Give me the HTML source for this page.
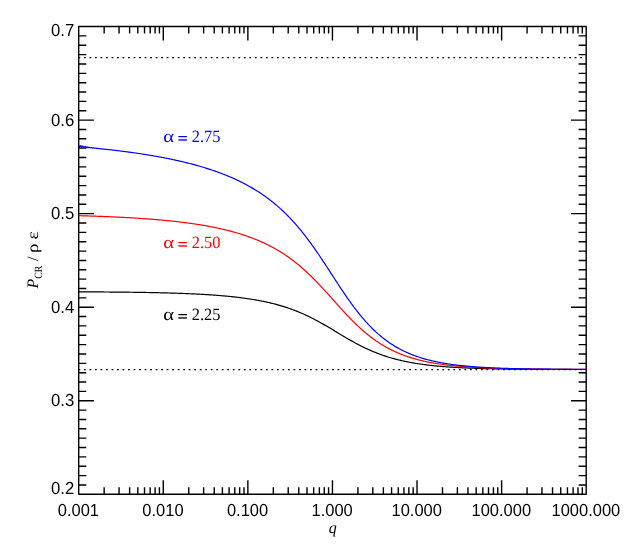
<!DOCTYPE html>
<html><head><meta charset="utf-8"><title>plot</title>
<style>
html,body{margin:0;padding:0;background:#fff;}
body{width:629px;height:550px;overflow:hidden;}
svg{display:block;will-change:transform;}
text{text-rendering:geometricPrecision;}
.t{font-family:"Liberation Sans",sans-serif;font-size:16px;fill:#000;}
.s{font-family:"Liberation Serif",serif;font-size:16px;}
.si{font-family:"Liberation Serif",serif;font-size:16px;font-style:italic;}
</style></head><body>
<svg width="629" height="550" viewBox="0 0 629 550">

<g stroke="#000" stroke-width="1.40" fill="none" stroke-linecap="butt" stroke-linejoin="round">
<rect x="78.70" y="26.56" width="507.50" height="467.74"/>
<path d="M104.16 494.30V487.30M104.16 26.56V33.56M119.06 494.30V487.30M119.06 26.56V33.56M129.62 494.30V487.30M129.62 26.56V33.56M137.82 494.30V487.30M137.82 26.56V33.56M144.52 494.30V487.30M144.52 26.56V33.56M150.18 494.30V487.30M150.18 26.56V33.56M155.09 494.30V487.30M155.09 26.56V33.56M159.41 494.30V487.30M159.41 26.56V33.56M163.28 494.30V480.30M163.28 26.56V40.56M188.75 494.30V487.30M188.75 26.56V33.56M203.64 494.30V487.30M203.64 26.56V33.56M214.21 494.30V487.30M214.21 26.56V33.56M222.40 494.30V487.30M222.40 26.56V33.56M229.10 494.30V487.30M229.10 26.56V33.56M234.76 494.30V487.30M234.76 26.56V33.56M239.67 494.30V487.30M239.67 26.56V33.56M244.00 494.30V487.30M244.00 26.56V33.56M247.87 494.30V480.30M247.87 26.56V40.56M273.33 494.30V487.30M273.33 26.56V33.56M288.22 494.30V487.30M288.22 26.56V33.56M298.79 494.30V487.30M298.79 26.56V33.56M306.99 494.30V487.30M306.99 26.56V33.56M313.69 494.30V487.30M313.69 26.56V33.56M319.35 494.30V487.30M319.35 26.56V33.56M324.25 494.30V487.30M324.25 26.56V33.56M328.58 494.30V487.30M328.58 26.56V33.56M332.45 494.30V480.30M332.45 26.56V40.56M357.91 494.30V487.30M357.91 26.56V33.56M372.81 494.30V487.30M372.81 26.56V33.56M383.37 494.30V487.30M383.37 26.56V33.56M391.57 494.30V487.30M391.57 26.56V33.56M398.27 494.30V487.30M398.27 26.56V33.56M403.93 494.30V487.30M403.93 26.56V33.56M408.84 494.30V487.30M408.84 26.56V33.56M413.16 494.30V487.30M413.16 26.56V33.56M417.03 494.30V480.30M417.03 26.56V40.56M442.50 494.30V487.30M442.50 26.56V33.56M457.39 494.30V487.30M457.39 26.56V33.56M467.96 494.30V487.30M467.96 26.56V33.56M476.15 494.30V487.30M476.15 26.56V33.56M482.85 494.30V487.30M482.85 26.56V33.56M488.51 494.30V487.30M488.51 26.56V33.56M493.42 494.30V487.30M493.42 26.56V33.56M497.75 494.30V487.30M497.75 26.56V33.56M501.62 494.30V480.30M501.62 26.56V40.56M527.08 494.30V487.30M527.08 26.56V33.56M541.97 494.30V487.30M541.97 26.56V33.56M552.54 494.30V487.30M552.54 26.56V33.56M560.74 494.30V487.30M560.74 26.56V33.56M567.44 494.30V487.30M567.44 26.56V33.56M573.10 494.30V487.30M573.10 26.56V33.56M578.00 494.30V487.30M578.00 26.56V33.56M582.33 494.30V487.30M582.33 26.56V33.56M78.70 484.95H86.30M586.20 484.95H578.60M78.70 475.59H86.30M586.20 475.59H578.60M78.70 466.24H86.30M586.20 466.24H578.60M78.70 456.88H86.30M586.20 456.88H578.60M78.70 447.53H86.30M586.20 447.53H578.60M78.70 438.17H86.30M586.20 438.17H578.60M78.70 428.82H86.30M586.20 428.82H578.60M78.70 419.46H86.30M586.20 419.46H578.60M78.70 410.11H86.30M586.20 410.11H578.60M78.70 400.75H93.90M586.20 400.75H571.00M78.70 391.40H86.30M586.20 391.40H578.60M78.70 382.04H86.30M586.20 382.04H578.60M78.70 372.69H86.30M586.20 372.69H578.60M78.70 363.33H86.30M586.20 363.33H578.60M78.70 353.98H86.30M586.20 353.98H578.60M78.70 344.62H86.30M586.20 344.62H578.60M78.70 335.27H86.30M586.20 335.27H578.60M78.70 325.91H86.30M586.20 325.91H578.60M78.70 316.56H86.30M586.20 316.56H578.60M78.70 307.20H93.90M586.20 307.20H571.00M78.70 297.85H86.30M586.20 297.85H578.60M78.70 288.49H86.30M586.20 288.49H578.60M78.70 279.14H86.30M586.20 279.14H578.60M78.70 269.78H86.30M586.20 269.78H578.60M78.70 260.43H86.30M586.20 260.43H578.60M78.70 251.08H86.30M586.20 251.08H578.60M78.70 241.72H86.30M586.20 241.72H578.60M78.70 232.37H86.30M586.20 232.37H578.60M78.70 223.01H86.30M586.20 223.01H578.60M78.70 213.66H93.90M586.20 213.66H571.00M78.70 204.30H86.30M586.20 204.30H578.60M78.70 194.95H86.30M586.20 194.95H578.60M78.70 185.59H86.30M586.20 185.59H578.60M78.70 176.24H86.30M586.20 176.24H578.60M78.70 166.88H86.30M586.20 166.88H578.60M78.70 157.53H86.30M586.20 157.53H578.60M78.70 148.17H86.30M586.20 148.17H578.60M78.70 138.82H86.30M586.20 138.82H578.60M78.70 129.46H86.30M586.20 129.46H578.60M78.70 120.11H93.90M586.20 120.11H571.00M78.70 110.75H86.30M586.20 110.75H578.60M78.70 101.40H86.30M586.20 101.40H578.60M78.70 92.04H86.30M586.20 92.04H578.60M78.70 82.69H86.30M586.20 82.69H578.60M78.70 73.33H86.30M586.20 73.33H578.60M78.70 63.98H86.30M586.20 63.98H578.60M78.70 54.62H86.30M586.20 54.62H578.60M78.70 45.27H86.30M586.20 45.27H578.60M78.70 35.91H86.30M586.20 35.91H578.60"/>
</g>
<g fill="none" stroke-width="1.20" stroke-linejoin="round" stroke-linecap="butt">
<path stroke="#000" d="M78.70 291.83 L79.55 291.83 L80.39 291.84 L81.24 291.84 L82.09 291.85 L82.94 291.85 L83.78 291.85 L84.63 291.86 L85.48 291.86 L86.33 291.87 L87.17 291.87 L88.02 291.88 L88.87 291.88 L89.71 291.89 L90.56 291.89 L91.41 291.89 L92.26 291.90 L93.10 291.90 L93.95 291.91 L94.80 291.92 L95.64 291.92 L96.49 291.93 L97.34 291.93 L98.19 291.94 L99.03 291.94 L99.88 291.95 L100.73 291.95 L101.58 291.96 L102.42 291.97 L103.27 291.97 L104.12 291.98 L104.96 291.99 L105.81 291.99 L106.66 292.00 L107.51 292.01 L108.35 292.01 L109.20 292.02 L110.05 292.03 L110.90 292.03 L111.74 292.04 L112.59 292.05 L113.44 292.06 L114.28 292.06 L115.13 292.07 L115.98 292.08 L116.83 292.09 L117.67 292.10 L118.52 292.10 L119.37 292.11 L120.22 292.12 L121.06 292.13 L121.91 292.14 L122.76 292.15 L123.60 292.16 L124.45 292.17 L125.30 292.18 L126.15 292.19 L126.99 292.20 L127.84 292.21 L128.69 292.22 L129.53 292.23 L130.38 292.24 L131.23 292.25 L132.08 292.26 L132.92 292.27 L133.77 292.28 L134.62 292.30 L135.47 292.31 L136.31 292.32 L137.16 292.33 L138.01 292.35 L138.85 292.36 L139.70 292.37 L140.55 292.38 L141.40 292.40 L142.24 292.41 L143.09 292.43 L143.94 292.44 L144.79 292.45 L145.63 292.47 L146.48 292.48 L147.33 292.50 L148.17 292.51 L149.02 292.53 L149.87 292.55 L150.72 292.56 L151.56 292.58 L152.41 292.60 L153.26 292.61 L154.10 292.63 L154.95 292.65 L155.80 292.67 L156.65 292.69 L157.49 292.70 L158.34 292.72 L159.19 292.74 L160.04 292.76 L160.88 292.78 L161.73 292.80 L162.58 292.82 L163.42 292.85 L164.27 292.87 L165.12 292.89 L165.97 292.91 L166.81 292.93 L167.66 292.96 L168.51 292.98 L169.36 293.01 L170.20 293.03 L171.05 293.06 L171.90 293.08 L172.74 293.11 L173.59 293.13 L174.44 293.16 L175.29 293.19 L176.13 293.21 L176.98 293.24 L177.83 293.27 L178.67 293.30 L179.52 293.33 L180.37 293.36 L181.22 293.39 L182.06 293.42 L182.91 293.45 L183.76 293.49 L184.61 293.52 L185.45 293.55 L186.30 293.59 L187.15 293.62 L187.99 293.66 L188.84 293.69 L189.69 293.73 L190.54 293.77 L191.38 293.80 L192.23 293.84 L193.08 293.88 L193.93 293.92 L194.77 293.96 L195.62 294.00 L196.47 294.05 L197.31 294.09 L198.16 294.13 L199.01 294.18 L199.86 294.22 L200.70 294.27 L201.55 294.32 L202.40 294.36 L203.25 294.41 L204.09 294.46 L204.94 294.51 L205.79 294.56 L206.63 294.61 L207.48 294.67 L208.33 294.72 L209.18 294.78 L210.02 294.83 L210.87 294.89 L211.72 294.95 L212.56 295.01 L213.41 295.07 L214.26 295.13 L215.11 295.19 L215.95 295.25 L216.80 295.32 L217.65 295.38 L218.50 295.45 L219.34 295.52 L220.19 295.59 L221.04 295.66 L221.88 295.73 L222.73 295.80 L223.58 295.88 L224.43 295.95 L225.27 296.03 L226.12 296.11 L226.97 296.19 L227.82 296.27 L228.66 296.35 L229.51 296.43 L230.36 296.52 L231.20 296.61 L232.05 296.70 L232.90 296.79 L233.75 296.88 L234.59 296.97 L235.44 297.07 L236.29 297.17 L237.13 297.26 L237.98 297.36 L238.83 297.47 L239.68 297.57 L240.52 297.68 L241.37 297.79 L242.22 297.90 L243.07 298.01 L243.91 298.12 L244.76 298.24 L245.61 298.36 L246.45 298.48 L247.30 298.60 L248.15 298.72 L249.00 298.85 L249.84 298.98 L250.69 299.11 L251.54 299.25 L252.39 299.38 L253.23 299.52 L254.08 299.66 L254.93 299.81 L255.77 299.95 L256.62 300.10 L257.47 300.26 L258.32 300.41 L259.16 300.57 L260.01 300.73 L260.86 300.89 L261.71 301.06 L262.55 301.23 L263.40 301.40 L264.25 301.57 L265.09 301.75 L265.94 301.94 L266.79 302.12 L267.64 302.31 L268.48 302.50 L269.33 302.70 L270.18 302.89 L271.02 303.10 L271.87 303.30 L272.72 303.51 L273.57 303.72 L274.41 303.94 L275.26 304.16 L276.11 304.39 L276.96 304.61 L277.80 304.85 L278.65 305.08 L279.50 305.32 L280.34 305.57 L281.19 305.82 L282.04 306.07 L282.89 306.33 L283.73 306.59 L284.58 306.86 L285.43 307.13 L286.28 307.40 L287.12 307.68 L287.97 307.97 L288.82 308.26 L289.66 308.55 L290.51 308.85 L291.36 309.15 L292.21 309.46 L293.05 309.77 L293.90 310.09 L294.75 310.42 L295.59 310.74 L296.44 311.08 L297.29 311.42 L298.14 311.76 L298.98 312.11 L299.83 312.46 L300.68 312.82 L301.53 313.19 L302.37 313.56 L303.22 313.93 L304.07 314.31 L304.91 314.70 L305.76 315.09 L306.61 315.48 L307.46 315.88 L308.30 316.29 L309.15 316.70 L310.00 317.11 L310.85 317.54 L311.69 317.96 L312.54 318.39 L313.39 318.83 L314.23 319.26 L315.08 319.71 L315.93 320.16 L316.78 320.61 L317.62 321.07 L318.47 321.53 L319.32 321.99 L320.16 322.46 L321.01 322.94 L321.86 323.41 L322.71 323.89 L323.55 324.38 L324.40 324.86 L325.25 325.35 L326.10 325.84 L326.94 326.34 L327.79 326.84 L328.64 327.34 L329.48 327.84 L330.33 328.34 L331.18 328.85 L332.03 329.35 L332.87 329.86 L333.72 330.37 L334.57 330.88 L335.42 331.39 L336.26 331.89 L337.11 332.40 L337.96 332.91 L338.80 333.42 L339.65 333.93 L340.50 334.44 L341.35 334.95 L342.19 335.45 L343.04 335.96 L343.89 336.46 L344.74 336.96 L345.58 337.46 L346.43 337.95 L347.28 338.45 L348.12 338.94 L348.97 339.43 L349.82 339.91 L350.67 340.39 L351.51 340.87 L352.36 341.34 L353.21 341.82 L354.05 342.28 L354.90 342.75 L355.75 343.20 L356.60 343.66 L357.44 344.11 L358.29 344.56 L359.14 345.00 L359.99 345.43 L360.83 345.87 L361.68 346.29 L362.53 346.71 L363.37 347.13 L364.22 347.54 L365.07 347.95 L365.92 348.35 L366.76 348.75 L367.61 349.14 L368.46 349.53 L369.31 349.91 L370.15 350.28 L371.00 350.65 L371.85 351.02 L372.69 351.38 L373.54 351.73 L374.39 352.08 L375.24 352.42 L376.08 352.76 L376.93 353.09 L377.78 353.42 L378.62 353.74 L379.47 354.06 L380.32 354.37 L381.17 354.68 L382.01 354.98 L382.86 355.27 L383.71 355.57 L384.56 355.85 L385.40 356.13 L386.25 356.41 L387.10 356.68 L387.94 356.95 L388.79 357.21 L389.64 357.46 L390.49 357.72 L391.33 357.96 L392.18 358.21 L393.03 358.44 L393.88 358.68 L394.72 358.91 L395.57 359.13 L396.42 359.35 L397.26 359.57 L398.11 359.78 L398.96 359.99 L399.81 360.19 L400.65 360.39 L401.50 360.59 L402.35 360.78 L403.19 360.97 L404.04 361.16 L404.89 361.34 L405.74 361.51 L406.58 361.69 L407.43 361.86 L408.28 362.03 L409.13 362.19 L409.97 362.35 L410.82 362.51 L411.67 362.66 L412.51 362.81 L413.36 362.96 L414.21 363.10 L415.06 363.24 L415.90 363.38 L416.75 363.52 L417.60 363.65 L418.45 363.78 L419.29 363.91 L420.14 364.03 L420.99 364.15 L421.83 364.27 L422.68 364.39 L423.53 364.50 L424.38 364.62 L425.22 364.72 L426.07 364.83 L426.92 364.94 L427.77 365.04 L428.61 365.14 L429.46 365.24 L430.31 365.33 L431.15 365.43 L432.00 365.52 L432.85 365.61 L433.70 365.70 L434.54 365.78 L435.39 365.87 L436.24 365.95 L437.08 366.03 L437.93 366.11 L438.78 366.19 L439.63 366.26 L440.47 366.34 L441.32 366.41 L442.17 366.48 L443.02 366.55 L443.86 366.62 L444.71 366.68 L445.56 366.75 L446.40 366.81 L447.25 366.87 L448.10 366.93 L448.95 366.99 L449.79 367.05 L450.64 367.11 L451.49 367.16 L452.34 367.22 L453.18 367.27 L454.03 367.32 L454.88 367.37 L455.72 367.42 L456.57 367.47 L457.42 367.52 L458.27 367.56 L459.11 367.61 L459.96 367.65 L460.81 367.70 L461.65 367.74 L462.50 367.78 L463.35 367.82 L464.20 367.86 L465.04 367.90 L465.89 367.94 L466.74 367.97 L467.59 368.01 L468.43 368.04 L469.28 368.08 L470.13 368.11 L470.97 368.14 L471.82 368.18 L472.67 368.21 L473.52 368.24 L474.36 368.27 L475.21 368.30 L476.06 368.33 L476.91 368.36 L477.75 368.38 L478.60 368.41 L479.45 368.44 L480.29 368.46 L481.14 368.49 L481.99 368.51 L482.84 368.54 L483.68 368.56 L484.53 368.58 L485.38 368.60 L486.23 368.63 L487.07 368.65 L487.92 368.67 L488.77 368.69 L489.61 368.71 L490.46 368.73 L491.31 368.75 L492.16 368.77 L493.00 368.78 L493.85 368.80 L494.70 368.82 L495.54 368.84 L496.39 368.85 L497.24 368.87 L498.09 368.89 L498.93 368.90 L499.78 368.92 L500.63 368.93 L501.48 368.95 L502.32 368.96 L503.17 368.97 L504.02 368.99 L504.86 369.00 L505.71 369.01 L506.56 369.03 L507.41 369.04 L508.25 369.05 L509.10 369.06 L509.95 369.07 L510.80 369.08 L511.64 369.10 L512.49 369.11 L513.34 369.12 L514.18 369.13 L515.03 369.14 L515.88 369.15 L516.73 369.16 L517.57 369.17 L518.42 369.18 L519.27 369.18 L520.11 369.19 L520.96 369.20 L521.81 369.21 L522.66 369.22 L523.50 369.23 L524.35 369.23 L525.20 369.24 L526.05 369.25 L526.89 369.26 L527.74 369.26 L528.59 369.27 L529.43 369.28 L530.28 369.28 L531.13 369.29 L531.98 369.30 L532.82 369.30 L533.67 369.31 L534.52 369.32 L535.37 369.32 L536.21 369.33 L537.06 369.33 L537.91 369.34 L538.75 369.34 L539.60 369.35 L540.45 369.35 L541.30 369.36 L542.14 369.36 L542.99 369.37 L543.84 369.37 L544.68 369.38 L545.53 369.38 L546.38 369.39 L547.23 369.39 L548.07 369.39 L548.92 369.40 L549.77 369.40 L550.62 369.41 L551.46 369.41 L552.31 369.41 L553.16 369.42 L554.00 369.42 L554.85 369.42 L555.70 369.43 L556.55 369.43 L557.39 369.43 L558.24 369.44 L559.09 369.44 L559.94 369.44 L560.78 369.44 L561.63 369.45 L562.48 369.45 L563.32 369.45 L564.17 369.46 L565.02 369.46 L565.87 369.46 L566.71 369.46 L567.56 369.47 L568.41 369.47 L569.26 369.47 L570.10 369.47 L570.95 369.47 L571.80 369.48 L572.64 369.48 L573.49 369.48 L574.34 369.48 L575.19 369.49 L576.03 369.49 L576.88 369.49 L577.73 369.49 L578.57 369.49 L579.42 369.49 L580.27 369.50 L581.12 369.50 L581.96 369.50 L582.81 369.50 L583.66 369.50 L584.51 369.50 L585.35 369.51 L586.20 369.51"/>
<path stroke="#f00" d="M78.70 215.68 L79.55 215.70 L80.39 215.72 L81.24 215.75 L82.09 215.77 L82.94 215.80 L83.78 215.82 L84.63 215.85 L85.48 215.87 L86.33 215.90 L87.17 215.93 L88.02 215.95 L88.87 215.98 L89.71 216.01 L90.56 216.04 L91.41 216.06 L92.26 216.09 L93.10 216.12 L93.95 216.15 L94.80 216.18 L95.64 216.21 L96.49 216.24 L97.34 216.27 L98.19 216.30 L99.03 216.33 L99.88 216.36 L100.73 216.40 L101.58 216.43 L102.42 216.46 L103.27 216.49 L104.12 216.53 L104.96 216.56 L105.81 216.59 L106.66 216.63 L107.51 216.66 L108.35 216.70 L109.20 216.74 L110.05 216.77 L110.90 216.81 L111.74 216.85 L112.59 216.88 L113.44 216.92 L114.28 216.96 L115.13 217.00 L115.98 217.04 L116.83 217.08 L117.67 217.12 L118.52 217.16 L119.37 217.20 L120.22 217.25 L121.06 217.29 L121.91 217.33 L122.76 217.38 L123.60 217.42 L124.45 217.46 L125.30 217.51 L126.15 217.56 L126.99 217.60 L127.84 217.65 L128.69 217.70 L129.53 217.74 L130.38 217.79 L131.23 217.84 L132.08 217.89 L132.92 217.94 L133.77 217.99 L134.62 218.05 L135.47 218.10 L136.31 218.15 L137.16 218.20 L138.01 218.26 L138.85 218.31 L139.70 218.37 L140.55 218.43 L141.40 218.48 L142.24 218.54 L143.09 218.60 L143.94 218.66 L144.79 218.72 L145.63 218.78 L146.48 218.84 L147.33 218.90 L148.17 218.97 L149.02 219.03 L149.87 219.09 L150.72 219.16 L151.56 219.22 L152.41 219.29 L153.26 219.36 L154.10 219.43 L154.95 219.50 L155.80 219.57 L156.65 219.64 L157.49 219.71 L158.34 219.78 L159.19 219.86 L160.04 219.93 L160.88 220.01 L161.73 220.09 L162.58 220.16 L163.42 220.24 L164.27 220.32 L165.12 220.40 L165.97 220.48 L166.81 220.57 L167.66 220.65 L168.51 220.74 L169.36 220.82 L170.20 220.91 L171.05 221.00 L171.90 221.09 L172.74 221.18 L173.59 221.27 L174.44 221.36 L175.29 221.45 L176.13 221.55 L176.98 221.64 L177.83 221.74 L178.67 221.84 L179.52 221.94 L180.37 222.04 L181.22 222.14 L182.06 222.25 L182.91 222.35 L183.76 222.46 L184.61 222.57 L185.45 222.68 L186.30 222.79 L187.15 222.90 L187.99 223.01 L188.84 223.13 L189.69 223.25 L190.54 223.36 L191.38 223.48 L192.23 223.60 L193.08 223.73 L193.93 223.85 L194.77 223.98 L195.62 224.11 L196.47 224.23 L197.31 224.37 L198.16 224.50 L199.01 224.63 L199.86 224.77 L200.70 224.91 L201.55 225.05 L202.40 225.19 L203.25 225.33 L204.09 225.48 L204.94 225.63 L205.79 225.78 L206.63 225.93 L207.48 226.08 L208.33 226.24 L209.18 226.39 L210.02 226.55 L210.87 226.72 L211.72 226.88 L212.56 227.05 L213.41 227.21 L214.26 227.39 L215.11 227.56 L215.95 227.73 L216.80 227.91 L217.65 228.09 L218.50 228.27 L219.34 228.46 L220.19 228.65 L221.04 228.84 L221.88 229.03 L222.73 229.23 L223.58 229.43 L224.43 229.63 L225.27 229.83 L226.12 230.04 L226.97 230.25 L227.82 230.46 L228.66 230.68 L229.51 230.89 L230.36 231.12 L231.20 231.34 L232.05 231.57 L232.90 231.80 L233.75 232.03 L234.59 232.27 L235.44 232.51 L236.29 232.76 L237.13 233.00 L237.98 233.26 L238.83 233.51 L239.68 233.77 L240.52 234.03 L241.37 234.30 L242.22 234.57 L243.07 234.84 L243.91 235.12 L244.76 235.40 L245.61 235.69 L246.45 235.97 L247.30 236.27 L248.15 236.57 L249.00 236.87 L249.84 237.18 L250.69 237.49 L251.54 237.80 L252.39 238.12 L253.23 238.45 L254.08 238.78 L254.93 239.11 L255.77 239.45 L256.62 239.80 L257.47 240.15 L258.32 240.50 L259.16 240.86 L260.01 241.23 L260.86 241.60 L261.71 241.98 L262.55 242.36 L263.40 242.75 L264.25 243.14 L265.09 243.54 L265.94 243.94 L266.79 244.35 L267.64 244.77 L268.48 245.19 L269.33 245.62 L270.18 246.06 L271.02 246.50 L271.87 246.95 L272.72 247.41 L273.57 247.87 L274.41 248.34 L275.26 248.81 L276.11 249.30 L276.96 249.79 L277.80 250.28 L278.65 250.79 L279.50 251.30 L280.34 251.82 L281.19 252.35 L282.04 252.88 L282.89 253.42 L283.73 253.97 L284.58 254.53 L285.43 255.10 L286.28 255.67 L287.12 256.25 L287.97 256.84 L288.82 257.44 L289.66 258.05 L290.51 258.67 L291.36 259.29 L292.21 259.92 L293.05 260.56 L293.90 261.21 L294.75 261.87 L295.59 262.54 L296.44 263.21 L297.29 263.90 L298.14 264.59 L298.98 265.29 L299.83 266.01 L300.68 266.73 L301.53 267.45 L302.37 268.19 L303.22 268.94 L304.07 269.69 L304.91 270.46 L305.76 271.23 L306.61 272.01 L307.46 272.80 L308.30 273.60 L309.15 274.40 L310.00 275.22 L310.85 276.04 L311.69 276.87 L312.54 277.71 L313.39 278.55 L314.23 279.41 L315.08 280.27 L315.93 281.14 L316.78 282.01 L317.62 282.89 L318.47 283.78 L319.32 284.67 L320.16 285.57 L321.01 286.47 L321.86 287.38 L322.71 288.30 L323.55 289.22 L324.40 290.14 L325.25 291.07 L326.10 292.00 L326.94 292.94 L327.79 293.88 L328.64 294.82 L329.48 295.76 L330.33 296.70 L331.18 297.65 L332.03 298.60 L332.87 299.54 L333.72 300.49 L334.57 301.44 L335.42 302.39 L336.26 303.33 L337.11 304.28 L337.96 305.22 L338.80 306.16 L339.65 307.10 L340.50 308.03 L341.35 308.97 L342.19 309.89 L343.04 310.82 L343.89 311.74 L344.74 312.65 L345.58 313.56 L346.43 314.47 L347.28 315.36 L348.12 316.26 L348.97 317.14 L349.82 318.02 L350.67 318.89 L351.51 319.76 L352.36 320.61 L353.21 321.46 L354.05 322.30 L354.90 323.14 L355.75 323.96 L356.60 324.78 L357.44 325.58 L358.29 326.38 L359.14 327.17 L359.99 327.95 L360.83 328.72 L361.68 329.48 L362.53 330.23 L363.37 330.97 L364.22 331.70 L365.07 332.42 L365.92 333.13 L366.76 333.83 L367.61 334.52 L368.46 335.20 L369.31 335.88 L370.15 336.54 L371.00 337.19 L371.85 337.83 L372.69 338.46 L373.54 339.08 L374.39 339.69 L375.24 340.29 L376.08 340.88 L376.93 341.46 L377.78 342.03 L378.62 342.59 L379.47 343.15 L380.32 343.69 L381.17 344.22 L382.01 344.74 L382.86 345.26 L383.71 345.76 L384.56 346.26 L385.40 346.74 L386.25 347.22 L387.10 347.69 L387.94 348.15 L388.79 348.60 L389.64 349.04 L390.49 349.48 L391.33 349.90 L392.18 350.32 L393.03 350.73 L393.88 351.13 L394.72 351.53 L395.57 351.91 L396.42 352.29 L397.26 352.66 L398.11 353.03 L398.96 353.39 L399.81 353.73 L400.65 354.08 L401.50 354.41 L402.35 354.74 L403.19 355.06 L404.04 355.38 L404.89 355.69 L405.74 355.99 L406.58 356.29 L407.43 356.58 L408.28 356.86 L409.13 357.14 L409.97 357.41 L410.82 357.68 L411.67 357.94 L412.51 358.20 L413.36 358.45 L414.21 358.69 L415.06 358.93 L415.90 359.17 L416.75 359.39 L417.60 359.62 L418.45 359.84 L419.29 360.06 L420.14 360.27 L420.99 360.47 L421.83 360.67 L422.68 360.87 L423.53 361.07 L424.38 361.25 L425.22 361.44 L426.07 361.62 L426.92 361.80 L427.77 361.97 L428.61 362.14 L429.46 362.31 L430.31 362.47 L431.15 362.63 L432.00 362.78 L432.85 362.93 L433.70 363.08 L434.54 363.23 L435.39 363.37 L436.24 363.51 L437.08 363.64 L437.93 363.78 L438.78 363.91 L439.63 364.03 L440.47 364.16 L441.32 364.28 L442.17 364.40 L443.02 364.51 L443.86 364.63 L444.71 364.74 L445.56 364.85 L446.40 364.95 L447.25 365.06 L448.10 365.16 L448.95 365.26 L449.79 365.36 L450.64 365.45 L451.49 365.54 L452.34 365.64 L453.18 365.72 L454.03 365.81 L454.88 365.90 L455.72 365.98 L456.57 366.06 L457.42 366.14 L458.27 366.22 L459.11 366.29 L459.96 366.37 L460.81 366.44 L461.65 366.51 L462.50 366.58 L463.35 366.65 L464.20 366.71 L465.04 366.78 L465.89 366.84 L466.74 366.90 L467.59 366.96 L468.43 367.02 L469.28 367.08 L470.13 367.14 L470.97 367.19 L471.82 367.24 L472.67 367.30 L473.52 367.35 L474.36 367.40 L475.21 367.45 L476.06 367.50 L476.91 367.54 L477.75 367.59 L478.60 367.63 L479.45 367.68 L480.29 367.72 L481.14 367.76 L481.99 367.80 L482.84 367.84 L483.68 367.88 L484.53 367.92 L485.38 367.96 L486.23 368.00 L487.07 368.03 L487.92 368.07 L488.77 368.10 L489.61 368.13 L490.46 368.17 L491.31 368.20 L492.16 368.23 L493.00 368.26 L493.85 368.29 L494.70 368.32 L495.54 368.35 L496.39 368.37 L497.24 368.40 L498.09 368.43 L498.93 368.45 L499.78 368.48 L500.63 368.50 L501.48 368.53 L502.32 368.55 L503.17 368.58 L504.02 368.60 L504.86 368.62 L505.71 368.64 L506.56 368.66 L507.41 368.68 L508.25 368.70 L509.10 368.72 L509.95 368.74 L510.80 368.76 L511.64 368.78 L512.49 368.80 L513.34 368.82 L514.18 368.83 L515.03 368.85 L515.88 368.87 L516.73 368.88 L517.57 368.90 L518.42 368.91 L519.27 368.93 L520.11 368.94 L520.96 368.96 L521.81 368.97 L522.66 368.98 L523.50 369.00 L524.35 369.01 L525.20 369.02 L526.05 369.04 L526.89 369.05 L527.74 369.06 L528.59 369.07 L529.43 369.08 L530.28 369.09 L531.13 369.10 L531.98 369.12 L532.82 369.13 L533.67 369.14 L534.52 369.15 L535.37 369.16 L536.21 369.16 L537.06 369.17 L537.91 369.18 L538.75 369.19 L539.60 369.20 L540.45 369.21 L541.30 369.22 L542.14 369.22 L542.99 369.23 L543.84 369.24 L544.68 369.25 L545.53 369.26 L546.38 369.26 L547.23 369.27 L548.07 369.28 L548.92 369.28 L549.77 369.29 L550.62 369.30 L551.46 369.30 L552.31 369.31 L553.16 369.31 L554.00 369.32 L554.85 369.33 L555.70 369.33 L556.55 369.34 L557.39 369.34 L558.24 369.35 L559.09 369.35 L559.94 369.36 L560.78 369.36 L561.63 369.37 L562.48 369.37 L563.32 369.38 L564.17 369.38 L565.02 369.38 L565.87 369.39 L566.71 369.39 L567.56 369.40 L568.41 369.40 L569.26 369.40 L570.10 369.41 L570.95 369.41 L571.80 369.42 L572.64 369.42 L573.49 369.42 L574.34 369.43 L575.19 369.43 L576.03 369.43 L576.88 369.44 L577.73 369.44 L578.57 369.44 L579.42 369.44 L580.27 369.45 L581.12 369.45 L581.96 369.45 L582.81 369.46 L583.66 369.46 L584.51 369.46 L585.35 369.46 L586.20 369.47"/>
<path stroke="#00f" d="M78.70 144.99 L79.75 147.49 L80.80 145.52 L81.85 147.52 L82.90 145.99 L83.95 147.59 L85.00 146.40 L86.05 147.69 L87.10 146.76 L88.15 147.81 L89.20 147.10 L90.25 147.95 L91.30 147.41 L92.35 148.10 L93.40 147.70 L94.45 148.27 L95.50 147.97 L96.55 148.45 L97.60 148.23 L98.65 148.64 L99.70 148.49 L100.75 148.83 L101.80 148.74 L102.85 149.04 L103.90 148.99 L104.96 149.21 L105.81 149.30 L106.66 149.40 L107.51 149.49 L108.35 149.58 L109.20 149.68 L110.05 149.77 L110.90 149.87 L111.74 149.97 L112.59 150.06 L113.44 150.16 L114.28 150.26 L115.13 150.36 L115.98 150.46 L116.83 150.56 L117.67 150.67 L118.52 150.77 L119.37 150.87 L120.22 150.98 L121.06 151.08 L121.91 151.19 L122.76 151.30 L123.60 151.41 L124.45 151.52 L125.30 151.63 L126.15 151.74 L126.99 151.85 L127.84 151.96 L128.69 152.08 L129.53 152.19 L130.38 152.31 L131.23 152.42 L132.08 152.54 L132.92 152.66 L133.77 152.78 L134.62 152.90 L135.47 153.02 L136.31 153.14 L137.16 153.27 L138.01 153.39 L138.85 153.52 L139.70 153.64 L140.55 153.77 L141.40 153.90 L142.24 154.03 L143.09 154.16 L143.94 154.29 L144.79 154.43 L145.63 154.56 L146.48 154.70 L147.33 154.83 L148.17 154.97 L149.02 155.11 L149.87 155.25 L150.72 155.39 L151.56 155.54 L152.41 155.68 L153.26 155.83 L154.10 155.97 L154.95 156.12 L155.80 156.27 L156.65 156.42 L157.49 156.57 L158.34 156.73 L159.19 156.88 L160.04 157.04 L160.88 157.19 L161.73 157.35 L162.58 157.51 L163.42 157.67 L164.27 157.84 L165.12 158.00 L165.97 158.17 L166.81 158.34 L167.66 158.51 L168.51 158.68 L169.36 158.85 L170.20 159.02 L171.05 159.20 L171.90 159.37 L172.74 159.55 L173.59 159.73 L174.44 159.92 L175.29 160.10 L176.13 160.29 L176.98 160.47 L177.83 160.66 L178.67 160.85 L179.52 161.05 L180.37 161.24 L181.22 161.44 L182.06 161.63 L182.91 161.83 L183.76 162.04 L184.61 162.24 L185.45 162.45 L186.30 162.65 L187.15 162.87 L187.99 163.08 L188.84 163.29 L189.69 163.51 L190.54 163.73 L191.38 163.95 L192.23 164.17 L193.08 164.39 L193.93 164.62 L194.77 164.85 L195.62 165.08 L196.47 165.32 L197.31 165.55 L198.16 165.79 L199.01 166.04 L199.86 166.28 L200.70 166.53 L201.55 166.77 L202.40 167.03 L203.25 167.28 L204.09 167.54 L204.94 167.80 L205.79 168.06 L206.63 168.32 L207.48 168.59 L208.33 168.86 L209.18 169.14 L210.02 169.41 L210.87 169.69 L211.72 169.97 L212.56 170.26 L213.41 170.55 L214.26 170.84 L215.11 171.14 L215.95 171.43 L216.80 171.74 L217.65 172.04 L218.50 172.35 L219.34 172.66 L220.19 172.97 L221.04 173.29 L221.88 173.62 L222.73 173.94 L223.58 174.27 L224.43 174.60 L225.27 174.94 L226.12 175.28 L226.97 175.63 L227.82 175.97 L228.66 176.33 L229.51 176.68 L230.36 177.04 L231.20 177.41 L232.05 177.78 L232.90 178.15 L233.75 178.53 L234.59 178.91 L235.44 179.30 L236.29 179.69 L237.13 180.09 L237.98 180.49 L238.83 180.90 L239.68 181.31 L240.52 181.72 L241.37 182.14 L242.22 182.57 L243.07 183.00 L243.91 183.44 L244.76 183.88 L245.61 184.33 L246.45 184.78 L247.30 185.24 L248.15 185.71 L249.00 186.18 L249.84 186.65 L250.69 187.13 L251.54 187.62 L252.39 188.12 L253.23 188.62 L254.08 189.13 L254.93 189.64 L255.77 190.16 L256.62 190.69 L257.47 191.22 L258.32 191.76 L259.16 192.31 L260.01 192.87 L260.86 193.43 L261.71 194.00 L262.55 194.58 L263.40 195.16 L264.25 195.75 L265.09 196.35 L265.94 196.96 L266.79 197.58 L267.64 198.20 L268.48 198.84 L269.33 199.48 L270.18 200.13 L271.02 200.78 L271.87 201.45 L272.72 202.13 L273.57 202.81 L274.41 203.51 L275.26 204.21 L276.11 204.92 L276.96 205.65 L277.80 206.38 L278.65 207.12 L279.50 207.87 L280.34 208.63 L281.19 209.41 L282.04 210.19 L282.89 210.98 L283.73 211.78 L284.58 212.60 L285.43 213.42 L286.28 214.26 L287.12 215.10 L287.97 215.96 L288.82 216.83 L289.66 217.70 L290.51 218.59 L291.36 219.50 L292.21 220.41 L293.05 221.33 L293.90 222.27 L294.75 223.22 L295.59 224.17 L296.44 225.14 L297.29 226.13 L298.14 227.12 L298.98 228.12 L299.83 229.14 L300.68 230.17 L301.53 231.21 L302.37 232.26 L303.22 233.32 L304.07 234.40 L304.91 235.48 L305.76 236.58 L306.61 237.69 L307.46 238.81 L308.30 239.94 L309.15 241.08 L310.00 242.23 L310.85 243.39 L311.69 244.56 L312.54 245.74 L313.39 246.93 L314.23 248.13 L315.08 249.34 L315.93 250.56 L316.78 251.79 L317.62 253.02 L318.47 254.26 L319.32 255.51 L320.16 256.77 L321.01 258.04 L321.86 259.31 L322.71 260.58 L323.55 261.86 L324.40 263.15 L325.25 264.44 L326.10 265.73 L326.94 267.03 L327.79 268.33 L328.64 269.64 L329.48 270.94 L330.33 272.25 L331.18 273.56 L332.03 274.87 L332.87 276.17 L333.72 277.48 L334.57 278.79 L335.42 280.09 L336.26 281.39 L337.11 282.69 L337.96 283.98 L338.80 285.27 L339.65 286.56 L340.50 287.84 L341.35 289.11 L342.19 290.38 L343.04 291.64 L343.89 292.90 L344.74 294.15 L345.58 295.38 L346.43 296.62 L347.28 297.84 L348.12 299.05 L348.97 300.25 L349.82 301.44 L350.67 302.62 L351.51 303.79 L352.36 304.95 L353.21 306.10 L354.05 307.24 L354.90 308.36 L355.75 309.47 L356.60 310.57 L357.44 311.66 L358.29 312.73 L359.14 313.79 L359.99 314.84 L360.83 315.87 L361.68 316.89 L362.53 317.90 L363.37 318.89 L364.22 319.87 L365.07 320.83 L365.92 321.78 L366.76 322.72 L367.61 323.64 L368.46 324.55 L369.31 325.45 L370.15 326.33 L371.00 327.19 L371.85 328.04 L372.69 328.88 L373.54 329.71 L374.39 330.52 L375.24 331.32 L376.08 332.10 L376.93 332.87 L377.78 333.63 L378.62 334.37 L379.47 335.10 L380.32 335.82 L381.17 336.52 L382.01 337.21 L382.86 337.89 L383.71 338.56 L384.56 339.21 L385.40 339.85 L386.25 340.48 L387.10 341.10 L387.94 341.70 L388.79 342.30 L389.64 342.88 L390.49 343.45 L391.33 344.01 L392.18 344.56 L393.03 345.10 L393.88 345.62 L394.72 346.14 L395.57 346.65 L396.42 347.14 L397.26 347.63 L398.11 348.11 L398.96 348.57 L399.81 349.03 L400.65 349.48 L401.50 349.92 L402.35 350.35 L403.19 350.77 L404.04 351.18 L404.89 351.58 L405.74 351.98 L406.58 352.36 L407.43 352.74 L408.28 353.11 L409.13 353.48 L409.97 353.83 L410.82 354.18 L411.67 354.52 L412.51 354.85 L413.36 355.18 L414.21 355.50 L415.06 355.81 L415.90 356.11 L416.75 356.41 L417.60 356.71 L418.45 356.99 L419.29 357.27 L420.14 357.55 L420.99 357.81 L421.83 358.08 L422.68 358.33 L423.53 358.58 L424.38 358.83 L425.22 359.07 L426.07 359.30 L426.92 359.53 L427.77 359.76 L428.61 359.98 L429.46 360.19 L430.31 360.40 L431.15 360.61 L432.00 360.81 L432.85 361.01 L433.70 361.20 L434.54 361.39 L435.39 361.57 L436.24 361.75 L437.08 361.93 L437.93 362.10 L438.78 362.27 L439.63 362.43 L440.47 362.59 L441.32 362.75 L442.17 362.90 L443.02 363.05 L443.86 363.20 L444.71 363.34 L445.56 363.48 L446.40 363.62 L447.25 363.75 L448.10 363.89 L448.95 364.01 L449.79 364.14 L450.64 364.26 L451.49 364.38 L452.34 364.50 L453.18 364.61 L454.03 364.73 L454.88 364.84 L455.72 364.94 L456.57 365.05 L457.42 365.15 L458.27 365.25 L459.11 365.35 L459.96 365.44 L460.81 365.54 L461.65 365.63 L462.50 365.72 L463.35 365.80 L464.20 365.89 L465.04 365.97 L465.89 366.05 L466.74 366.13 L467.59 366.21 L468.43 366.29 L469.28 366.36 L470.13 366.44 L470.97 366.51 L471.82 366.58 L472.67 366.64 L473.52 366.71 L474.36 366.78 L475.21 366.84 L476.06 366.90 L476.91 366.96 L477.75 367.02 L478.60 367.08 L479.45 367.14 L480.29 367.19 L481.14 367.24 L481.99 367.30 L482.84 367.35 L483.68 367.40 L484.53 367.45 L485.38 367.50 L486.23 367.54 L487.07 367.59 L487.92 367.63 L488.77 367.68 L489.61 367.72 L490.46 367.76 L491.31 367.80 L492.16 367.85 L493.00 367.88 L493.85 367.92 L494.70 367.96 L495.54 368.00 L496.39 368.03 L497.24 368.07 L498.09 368.10 L498.93 368.13 L499.78 368.17 L500.63 368.20 L501.48 368.23 L502.32 368.26 L503.17 368.29 L504.02 368.32 L504.86 368.35 L505.71 368.38 L506.56 368.40 L507.41 368.43 L508.25 368.46 L509.10 368.48 L509.95 368.51 L510.80 368.53 L511.64 368.55 L512.49 368.58 L513.34 368.60 L514.18 368.62 L515.03 368.64 L515.88 368.66 L516.73 368.68 L517.57 368.70 L518.42 368.72 L519.27 368.74 L520.11 368.76 L520.96 368.78 L521.81 368.80 L522.66 368.82 L523.50 368.83 L524.35 368.85 L525.20 368.87 L526.05 368.88 L526.89 368.90 L527.74 368.91 L528.59 368.93 L529.43 368.94 L530.28 368.96 L531.13 368.97 L531.98 368.99 L532.82 369.00 L533.67 369.01 L534.52 369.02 L535.37 369.04 L536.21 369.05 L537.06 369.06 L537.91 369.07 L538.75 369.08 L539.60 369.09 L540.45 369.11 L541.30 369.12 L542.14 369.13 L542.99 369.14 L543.84 369.15 L544.68 369.16 L545.53 369.17 L546.38 369.17 L547.23 369.18 L548.07 369.19 L548.92 369.20 L549.77 369.21 L550.62 369.22 L551.46 369.23 L552.31 369.23 L553.16 369.24 L554.00 369.25 L554.85 369.26 L555.70 369.26 L556.55 369.27 L557.39 369.28 L558.24 369.28 L559.09 369.29 L559.94 369.30 L560.78 369.30 L561.63 369.31 L562.48 369.31 L563.32 369.32 L564.17 369.33 L565.02 369.33 L565.87 369.34 L566.71 369.34 L567.56 369.35 L568.41 369.35 L569.26 369.36 L570.10 369.36 L570.95 369.37 L571.80 369.37 L572.64 369.38 L573.49 369.38 L574.34 369.38 L575.19 369.39 L576.03 369.39 L576.88 369.40 L577.73 369.40 L578.57 369.40 L579.42 369.41 L580.27 369.41 L581.12 369.42 L581.96 369.42 L582.81 369.42 L583.66 369.43 L584.51 369.43 L585.35 369.43 L586.20 369.44"/>
</g>
<line x1="78.70" x2="586.20" y1="57.54" y2="57.54" stroke="#000" stroke-width="1.3" stroke-dasharray="1.800 3.714" stroke-dashoffset="0.264"/>
<line x1="78.70" x2="586.20" y1="369.62" y2="369.62" stroke="#000" stroke-width="1.3" stroke-dasharray="1.800 3.714" stroke-dashoffset="0.264"/>
<text class="t" transform="translate(74.3 35.70) scale(1.045 1.09)" text-anchor="end">0.7</text>
<text class="t" transform="translate(74.3 125.70) scale(1.045 1.09)" text-anchor="end">0.6</text>
<text class="t" transform="translate(74.3 219.26) scale(1.045 1.09)" text-anchor="end">0.5</text>
<text class="t" transform="translate(74.3 312.80) scale(1.045 1.09)" text-anchor="end">0.4</text>
<text class="t" transform="translate(74.3 406.35) scale(1.045 1.09)" text-anchor="end">0.3</text>
<text class="t" transform="translate(74.3 494.30) scale(1.045 1.09)" text-anchor="end">0.2</text>
<text class="t" transform="translate(78.40 516.0) scale(1.03 1.09)" text-anchor="middle">0.001</text>
<text class="t" transform="translate(162.98 516.0) scale(1.03 1.09)" text-anchor="middle">0.010</text>
<text class="t" transform="translate(247.57 516.0) scale(1.03 1.09)" text-anchor="middle">0.100</text>
<text class="t" transform="translate(332.15 516.0) scale(1.03 1.09)" text-anchor="middle">1.000</text>
<text class="t" transform="translate(416.73 516.0) scale(1.03 1.09)" text-anchor="middle">10.000</text>
<text class="t" transform="translate(501.32 516.0) scale(1.03 1.09)" text-anchor="middle">100.000</text>
<text class="t" transform="translate(585.90 516.0) scale(1.03 1.09)" text-anchor="middle">1000.000</text>
<text class="si" x="332.8" y="533.2" text-anchor="middle">q</text>
<g fill="#00f" transform="translate(0 141.90) scale(1 1.08)">
<text class="s" x="163.2" y="0" textLength="10.7" lengthAdjust="spacingAndGlyphs">α</text>
<text class="s" x="177.8" y="1.8" textLength="9.8" lengthAdjust="spacingAndGlyphs" stroke="#00f" stroke-width="0.35">=</text>
<text class="s" x="191.7" y="0" textLength="28.7" lengthAdjust="spacingAndGlyphs">2.75</text>
</g>
<g fill="#f00" transform="translate(0 247.90) scale(1 1.08)">
<text class="s" x="163.2" y="0" textLength="10.7" lengthAdjust="spacingAndGlyphs">α</text>
<text class="s" x="177.8" y="1.8" textLength="9.8" lengthAdjust="spacingAndGlyphs" stroke="#f00" stroke-width="0.35">=</text>
<text class="s" x="191.7" y="0" textLength="28.7" lengthAdjust="spacingAndGlyphs">2.50</text>
</g>
<g fill="#000" transform="translate(0 320.10) scale(1 1.08)">
<text class="s" x="163.2" y="0" textLength="10.7" lengthAdjust="spacingAndGlyphs">α</text>
<text class="s" x="177.8" y="1.8" textLength="9.8" lengthAdjust="spacingAndGlyphs" stroke="#000" stroke-width="0.35">=</text>
<text class="s" x="191.7" y="0" textLength="28.7" lengthAdjust="spacingAndGlyphs">2.25</text>
</g>
<g transform="translate(38 288.6) rotate(-90)" fill="#000">
<text class="si" x="0" y="0">P</text>
<text class="s" x="9.8" y="4" style="font-size:11px" textLength="13.3" lengthAdjust="spacingAndGlyphs">CR</text>
<text class="s" x="27.6" y="0">/</text>
<text class="s" x="35.6" y="0" textLength="9.5" lengthAdjust="spacingAndGlyphs">ρ</text>
<text class="s" x="49.1" y="0" textLength="8.2" lengthAdjust="spacingAndGlyphs">ε</text>
</g>
</svg></body></html>
